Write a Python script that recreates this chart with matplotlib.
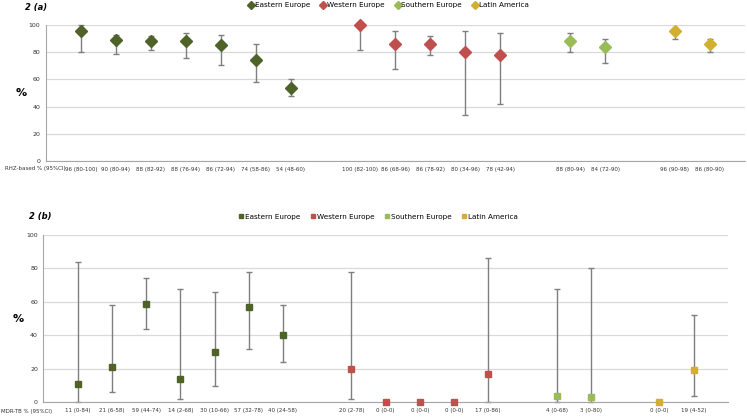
import matplotlib.pyplot as plt
import numpy as np

# colours per region
regions = ["Eastern Europe", "Western Europe", "Southern Europe", "Latin America"]
colors = ["#4F6228", "#C0504D", "#9BBB59", "#D4AE2E"]

# panel (a): RHZ-based %
a_pos = [[1, 2, 3, 4, 5, 6, 7], [9, 10, 11, 12, 13], [15, 16], [18, 19]]
a_val = [[96, 89, 88, 88, 85, 74, 54], [100, 86, 86, 80, 78], [88, 84], [96, 86]]
a_lo = [[80, 79, 82, 76, 71, 58, 48], [82, 68, 78, 34, 42], [80, 72], [90, 80]]
a_hi = [[100, 93, 92, 94, 93, 86, 60], [100, 96, 92, 96, 94], [94, 90], [98, 90]]
a_labels = ["96 (80-100)", "90 (80-94)", "88 (82-92)", "88 (76-94)", "86 (72-94)",
            "74 (58-86)", "54 (48-60)", "100 (82-100)", "86 (68-96)", "86 (78-92)",
            "80 (34-96)", "78 (42-94)", "88 (80-94)", "84 (72-90)", "96 (90-98)",
            "86 (80-90)"]

# panel (b): MDR-TB %
b_pos = [[1, 2, 3, 4, 5, 6, 7], [9, 10, 11, 12, 13], [15, 16], [18, 19]]
b_val = [[11, 21, 59, 14, 30, 57, 40], [20, 0, 0, 0, 17], [4, 3], [0, 19]]
b_lo = [[0, 6, 44, 2, 10, 32, 24], [2, 0, 0, 0, 0], [0, 0], [0, 4]]
b_hi = [[84, 58, 74, 68, 66, 78, 58], [78, 0, 0, 0, 86], [68, 80], [0, 52]]
b_labels = ["11 (0-84)", "21 (6-58)", "59 (44-74)", "14 (2-68)", "30 (10-66)",
            "57 (32-78)", "40 (24-58)", "20 (2-78)", "0 (0-0)", "0 (0-0)", "0 (0-0)",
            "17 (0-86)", "4 (0-68)", "3 (0-80)", "0 (0-0)", "19 (4-52)"]

fig = plt.figure(figsize=(7.47, 4.18), dpi=100)
ax1 = fig.add_axes([0.0616, 0.6148, 0.9354, 0.3252])
ax2 = fig.add_axes([0.0582, 0.0376, 0.9160, 0.4002])


def panel(ax, pos, val, lo, hi, labels, marker, ms, header, title, leg, ylab_x):
    handles = []
    for p, v, l, h, c, name in zip(pos, val, lo, hi, colors, regions):
        v = np.array(v)
        err = [v - np.array(l), np.array(h) - v]
        ax.errorbar(p, v, yerr=err, fmt="none", ecolor="#7F7F7F", elinewidth=1,
                    capsize=2.5, capthick=1, clip_on=False, zorder=2)
        hd, = ax.plot(p, v, linestyle="none", marker=marker, ms=ms, color=c,
                      markeredgecolor=c, clip_on=False, zorder=3, label=name)
        handles.append(hd)
    ax.set_xlim(0, 20)
    ax.set_ylim(0, 100)
    ax.set_yticks(range(0, 101, 20))
    ax.grid(axis="y", color="#D9D9D9", linewidth=0.9)
    ax.set_axisbelow(True)
    for s in ["top", "right"]:
        ax.spines[s].set_visible(False)
    ax.spines["left"].set_color("#A6A6A6")
    ax.spines["bottom"].set_color("#A6A6A6")
    ax.tick_params(length=0, labelsize=4.5, colors="#333333", pad=4)
    ticks = [x for p in pos for x in p]
    ax.set_xticks(ticks)
    ax.set_xticklabels(labels, fontsize=4)
    ax.tick_params(axis="x", pad=4)
    ax.text(header[0], header[1], header[2], transform=ax.get_xaxis_transform(),
            ha="center", va="top", fontsize=4, color="#333333", clip_on=False)
    ax.set_ylabel("%", fontsize=8, fontweight="bold", rotation=0, va="center",
                  ha="center")
    ax.yaxis.set_label_coords(ylab_x, 0.5)
    fig.text(title[0], title[1], title[2], fontsize=6, fontweight="bold",
             style="italic", va="center")
    fig.legend(handles=handles, loc="center left", bbox_to_anchor=leg,
               ncol=4, frameon=False, fontsize=5.2, handlelength=0.5,
               handletextpad=0.3, columnspacing=1.5, markerscale=0.6,
               borderpad=0, borderaxespad=0)


panel(ax1, a_pos, a_val, a_lo, a_hi, a_labels, "D", 6.5,
      (-0.32, -0.04, "RHZ-based % (95%CI)"), (0.033, 0.983, "2 (a)"),
      (0.334, 0.987), -0.036)
panel(ax2, b_pos, b_val, b_lo, b_hi, b_labels, "s", 4.8,
      (-0.5, -0.04, "MDR-TB % (95%CI)"), (0.039, 0.481, "2 (b)"),
      (0.320, 0.482), -0.037)

fig.savefig("out.png", dpi=100)
